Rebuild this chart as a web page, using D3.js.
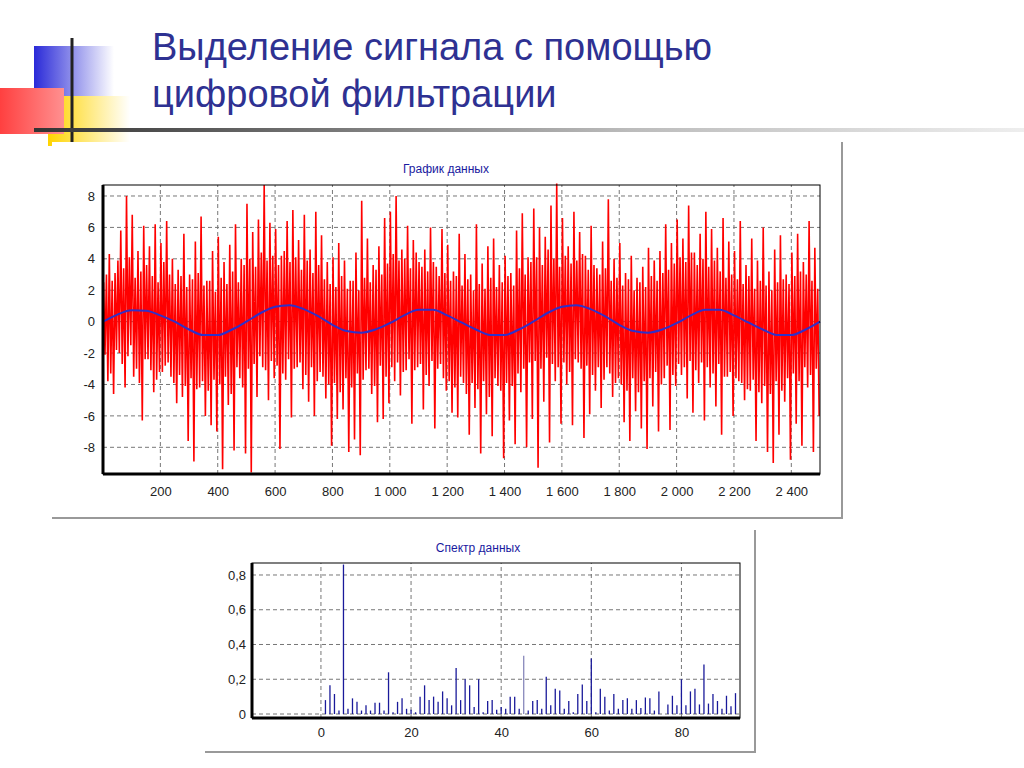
<!DOCTYPE html>
<html><head><meta charset="utf-8">
<script src="https://cdn.jsdelivr.net/npm/d3@7"></script>
<style>body{margin:0;background:#fff}svg{display:block}</style>
</head><body><svg id="c" width="1024" height="768"></svg>
<script>
// red signal peaks, one value every 10 samples
const signalStep = 10;
const signal = [
 2.5,-3.8,4.3,-4.6,3.1,-2.0,5.8,-4.2,8.0,-1.5,
 6.8,-3.0,4.5,-6.3,6.1,-2.4,4.8,-4.5,6.2,-3.2,
 5.0,-2.8,6.4,-3.5,4.0,-5.2,3.3,-4.8,5.6,-7.6,
 3.0,-8.9,5.1,-4.2,6.7,-6.0,2.6,-6.6,4.5,-7.0,
 5.4,-9.4,3.8,-5.3,4.9,-8.2,6.2,-3.6,4.0,-8.4,
 7.5,-9.6,5.7,-4.8,6.5,-2.9,8.7,-5.0,6.3,-3.6,
 5.9,-8.1,4.2,-3.7,6.4,-6.1,7.1,-2.9,5.2,-4.3,
 6.8,-5.1,4.6,-6.0,7.0,-3.2,5.5,-4.9,3.8,-7.9,
 4.1,-6.2,5.0,-5.6,3.9,-8.3,2.6,-7.5,4.4,-8.5,
 7.7,-3.1,5.3,-4.6,3.6,-6.4,4.8,-6.2,6.6,-5.2,
 7.0,-3.8,8.0,-4.7,4.6,-3.1,6.1,-6.5,5.2,-2.9,
 3.8,-5.6,4.6,-4.1,6.0,-6.8,3.5,-2.7,5.9,-4.4,
 4.9,-5.8,3.2,-6.1,5.6,-3.9,4.3,-7.2,3.0,-5.5,
 6.2,-8.4,3.7,-5.9,4.8,-7.3,5.3,-4.1,3.6,-8.7,
 4.2,-6.3,3.1,-7.8,5.8,-4.5,6.9,-8.0,4.1,-6.2,
 7.2,-9.3,6.0,-5.1,5.4,-7.7,7.4,-3.8,8.8,-6.5,
 6.6,-4.0,4.8,-6.6,7.0,-2.6,5.7,-7.4,4.2,-5.9,
 6.1,-4.4,3.4,-5.5,5.1,-2.9,7.8,-4.8,4.0,-3.6,
 5.0,-6.4,3.1,-7.6,4.2,-5.7,2.8,-6.8,3.5,-8.1,
 4.7,-5.4,3.9,-7.0,4.5,-3.6,6.2,-6.9,5.0,-4.1,
 6.5,-3.4,5.3,-4.9,7.4,-5.8,4.4,-3.9,5.6,-6.3,
 7.0,-4.2,5.9,-5.4,4.7,-7.2,6.6,-3.5,5.1,-6.0,
 4.5,-3.8,6.4,-5.0,3.6,-4.4,5.3,-7.6,3.9,-5.2,
 6.0,-8.3,3.2,-9.0,4.6,-7.2,5.5,-5.1,3.0,-8.8,
 4.4,-6.5,5.6,-7.9,3.8,-4.2,6.4,-8.3,4.7,-6.0
];
// in-between samples of the red signal (offset by half a step)
const signalMid = [
 -2.1,3.0,-3.3,2.6,-1.8,3.9,-2.7,3.4,-2.2,4.1,
 -3.5,2.8,-3.9,3.2,-2.4,3.6,-3.1,2.9,-3.7,2.5,
 -3.2,3.8,-2.6,3.0,-3.9,2.4,-3.4,2.9,-4.1,2.2,
 -3.6,2.7,-4.3,3.1,-3.8,2.3,-4.4,2.6,-3.7,1.9,
 -4.0,2.8,-3.5,2.4,-4.6,3.2,-2.9,2.5,-4.2,3.6,
 -3.0,4.0,-2.7,3.5,-2.2,4.4,-3.1,3.9,-2.5,4.2,
 -2.8,3.6,-3.3,4.5,-2.4,3.8,-3.0,4.1,-2.6,3.3,
 -3.4,3.9,-2.9,3.1,-3.8,3.6,-3.5,2.7,-4.0,2.4,
 -3.9,2.2,-4.5,2.9,-3.6,2.1,-4.2,2.6,-3.3,2.0,
 -3.7,2.8,-3.0,2.5,-4.1,3.3,-2.8,3.0,-3.5,3.7,
 -2.9,4.3,-2.6,3.9,-3.2,4.0,-2.4,3.4,-3.1,4.4,
 -2.7,3.5,-3.4,3.2,-2.5,3.8,-3.0,2.9,-3.6,3.1,
 -3.8,2.6,-4.2,2.9,-3.5,2.3,-4.6,2.7,-3.9,2.0,
 -4.3,2.4,-3.8,2.1,-4.8,2.8,-3.6,2.2,-4.4,2.5,
 -3.9,2.9,-4.1,2.3,-3.3,3.4,-3.0,3.0,-2.6,3.8,
 -2.5,4.1,-3.0,3.6,-2.3,4.6,-2.7,4.0,-2.9,3.5,
 -2.6,4.2,-3.2,3.7,-2.4,3.9,-3.0,4.3,-2.8,3.3,
 -3.4,3.6,-2.9,3.0,-3.7,3.4,-3.3,2.6,-3.9,2.8,
 -4.0,2.3,-4.4,2.7,-3.6,2.0,-4.5,2.5,-3.8,2.2,
 -3.6,2.9,-3.2,2.6,-4.0,3.1,-2.8,3.3,-3.4,3.7,
 -2.7,4.1,-2.9,3.8,-2.5,4.4,-3.1,3.6,-2.6,4.0,
 -2.9,3.5,-3.3,3.9,-2.7,3.2,-3.5,2.8,-3.2,3.0,
 -3.6,2.7,-3.9,2.4,-4.3,2.9,-3.7,2.1,-4.5,2.6,
 -4.1,2.3,-4.6,2.0,-3.8,2.5,-4.4,2.7,-3.6,2.4,
 -3.3,2.9,-3.8,3.2,-2.9,3.0,-3.4,2.6,-3.0,2.1
];
// filtered (blue) signal, one value every 50 samples
const filteredStep = 50;
const filtered = [0,0.45,0.72,0.7,0.4,0.0,-0.5,-0.85,-0.85,-0.5,
 0.0,0.55,0.95,1.05,0.8,0.35,-0.2,-0.6,-0.7,-0.5,
 -0.1,0.4,0.75,0.75,0.4,-0.05,-0.5,-0.85,-0.85,-0.5,
 0.0,0.55,0.95,1.05,0.8,0.35,-0.2,-0.6,-0.7,-0.5,
 -0.1,0.4,0.75,0.75,0.4,-0.05,-0.5,-0.85,-0.85,-0.5,0.0];
const signalXTicks = [200,400,600,800,1000,1200,1400,1600,1800,2000,2200,2400];
const signalYTicks = [-8,-6,-4,-2,0,2,4,6,8];

// spectrum amplitudes for harmonics 1..92
const spectrum = [0.08,0.165,0.115,0.02,0.86,0.03,0.09,0.07,0.02,0.05,
 0.02,0.065,0.065,0.02,0.24,0.01,0.07,0.09,0.03,0.025,
 0.01,0.1,0.165,0.08,0.1,0.07,0.13,0.09,0.05,0.265,
 0.08,0.2,0.165,0.04,0.2,0.01,0.075,0.08,0.025,0.04,
 0.03,0.1,0.1,0.03,0.335,0.02,0.075,0.08,0.03,0.215,
 0.05,0.145,0.135,0.03,0.075,0.01,0.115,0.17,0.075,0.32,
 0.01,0.145,0.1,0.02,0.115,0.03,0.08,0.09,0.03,0.08,
 0.035,0.095,0.09,0.02,0.13,0.0,0.055,0.105,0.05,0.2,
 0.05,0.13,0.145,0.055,0.285,0.06,0.115,0.075,0.03,0.105,
 0.045,0.12];
const spectrumXTicks = [0,20,40,60,80];
const spectrumYTicks = [0,0.2,0.4,0.6,0.8];

const svg = d3.select("#c");

// header decoration
const defs = svg.append("defs");
const g1 = defs.append("linearGradient").attr("id","bl");
g1.append("stop").attr("offset","0").attr("stop-color","#2a2ad8");
g1.append("stop").attr("offset","1").attr("stop-color","#fff");
const g2 = defs.append("linearGradient").attr("id","yl");
g2.append("stop").attr("offset","0").attr("stop-color","#ffd400");
g2.append("stop").attr("offset","1").attr("stop-color","#fff");
const g3 = defs.append("linearGradient").attr("id","rd");
g3.append("stop").attr("offset","0").attr("stop-color","#ff4040");
g3.append("stop").attr("offset","1").attr("stop-color","#ff9090");
const g4 = defs.append("linearGradient").attr("id","ln");
g4.append("stop").attr("offset","0").attr("stop-color","#333");
g4.append("stop").attr("offset","0.6").attr("stop-color","#bbb");
g4.append("stop").attr("offset","1").attr("stop-color","#eee");
svg.append("rect").attr("x",34).attr("y",46).attr("width",80).attr("height",64).attr("fill","url(#bl)");
svg.append("rect").attr("x",48).attr("y",96).attr("width",82).attr("height",50).attr("fill","url(#yl)");
svg.append("rect").attr("x",0).attr("y",88).attr("width",64).attr("height",46).attr("fill","url(#rd)");
svg.append("line").attr("x1",72).attr("x2",72).attr("y1",38).attr("y2",148).attr("stroke","#222").attr("stroke-width",3);
svg.append("rect").attr("x",34).attr("y",128).attr("width",990).attr("height",4).attr("fill","url(#ln)");
svg.append("text").attr("x",152).attr("y",60).attr("font-family","Arial, Liberation Sans").attr("font-size",38).attr("fill","#2e3192").text("Выделение сигнала с помощью");
svg.append("text").attr("x",152).attr("y",107).attr("font-family","Arial, Liberation Sans").attr("font-size",38).attr("fill","#2e3192").text("цифровой фильтрации");

function panel(x0,y0,x1,y1){
  svg.append("rect").attr("x",x0).attr("y",y0).attr("width",x1-x0).attr("height",y1-y0).attr("fill","#fff");
  svg.append("path").attr("d",`M${x1},${y0}V${y1}H${x0}`).attr("fill","none").attr("stroke","#999").attr("stroke-width",2);
}
function grid(g,x,y,xt,yt){
  const [xa,xb]=x.range(), [ya,yb]=y.range();
  xt.forEach(t=>g.append("line").attr("x1",x(t)).attr("x2",x(t)).attr("y1",ya).attr("y2",yb).attr("stroke","#777").attr("stroke-dasharray","4,3"));
  yt.forEach(t=>g.append("line").attr("x1",xa).attr("x2",xb).attr("y1",y(t)).attr("y2",y(t)).attr("stroke","#777").attr("stroke-dasharray","4,3"));
}
function frame(g,x,y){
  const [xa,xb]=x.range(), [ya,yb]=y.range();
  g.append("rect").attr("x",xa).attr("y",yb).attr("width",xb-xa).attr("height",ya-yb).attr("fill","none").attr("stroke","#000");
  g.append("line").attr("x1",xa).attr("x2",xa).attr("y1",yb).attr("y2",ya).attr("stroke","#000").attr("stroke-width",3);
  g.append("line").attr("x1",xa).attr("x2",xb).attr("y1",ya).attr("y2",ya).attr("stroke","#000").attr("stroke-width",3);
}
function styleAxis(ax){
  ax.select(".domain").remove();
  ax.selectAll("line").attr("stroke","#000");
  ax.selectAll("text").attr("font-family","Arial, Liberation Sans").attr("font-size",13).attr("fill","#222");
}

// signal chart
panel(52,142,842,518);
svg.append("text").attr("x",446).attr("y",173).attr("text-anchor","middle").attr("font-family","Arial, Liberation Sans").attr("font-size",12).attr("fill","#1a1aa0").text("График данных");
const x1 = d3.scaleLinear().domain([0,2500]).range([103,820]);
const y1 = d3.scaleLinear().domain([-9.7,8.7]).range([474,185]);
const topG = svg.append("g");
grid(topG,x1,y1,signalXTicks,signalYTicks);
// each 10-sample block: its high sample, then its low sample
const redPts = [];
signal.forEach((v,i)=>{
  const m = signalMid[i];
  redPts.push([i*signalStep+2, Math.max(v,m)]);
  redPts.push([i*signalStep+7, Math.min(v,m)]);
});
topG.append("path").datum(redPts)
  .attr("d",d3.line().x(d=>x1(d[0])).y(d=>y1(d[1])))
  .attr("fill","none").attr("stroke","#f00").attr("stroke-width",1.6).attr("stroke-linejoin","bevel");
topG.append("path").datum(filtered)
  .attr("d",d3.line().curve(d3.curveMonotoneX).x((d,i)=>x1(i*filteredStep)).y(d=>y1(d)))
  .attr("fill","none").attr("stroke","#3030c8").attr("stroke-width",2);
frame(topG,x1,y1);
const fmtSpace = d => d3.format(",")(d).replace(/,/g," ");
styleAxis(topG.append("g").attr("transform","translate(0,474)").call(d3.axisBottom(x1).tickValues(signalXTicks).tickSize(0).tickPadding(13).tickFormat(fmtSpace)));
styleAxis(topG.append("g").attr("transform","translate(103,0)").call(d3.axisLeft(y1).tickValues(signalYTicks).tickSize(0).tickPadding(8).tickFormat(d=>String(d))));

// spectrum chart
panel(205,530,755,752);
svg.append("text").attr("x",478).attr("y",552).attr("text-anchor","middle").attr("font-family","Arial, Liberation Sans").attr("font-size",12).attr("fill","#1a1aa0").text("Спектр данных");
const x2 = d3.scaleLinear().domain([-15.3,93]).range([252,740]);
const y2 = d3.scaleLinear().domain([-0.023,0.869]).range([718,563]);
const botG = svg.append("g");
grid(botG,x2,y2,spectrumXTicks,spectrumYTicks);
botG.selectAll(".bar").data(spectrum).enter().append("line")
  .attr("x1",(d,i)=>x2(i+1)).attr("x2",(d,i)=>x2(i+1))
  .attr("y1",y2(0)).attr("y2",d=>y2(d))
  .attr("stroke",(d,i)=>i+1===45?"#8888bb":"#1a1a9a").attr("stroke-width",1.3);
frame(botG,x2,y2);
styleAxis(botG.append("g").attr("transform","translate(0,718)").call(d3.axisBottom(x2).tickValues(spectrumXTicks).tickSize(0).tickPadding(10)));
styleAxis(botG.append("g").attr("transform","translate(252,0)").call(d3.axisLeft(y2).tickValues(spectrumYTicks).tickSize(0).tickPadding(6).tickFormat(d=>d===0?"0":d3.format(".1f")(d).replace(".",","))));
</script></body></html>
